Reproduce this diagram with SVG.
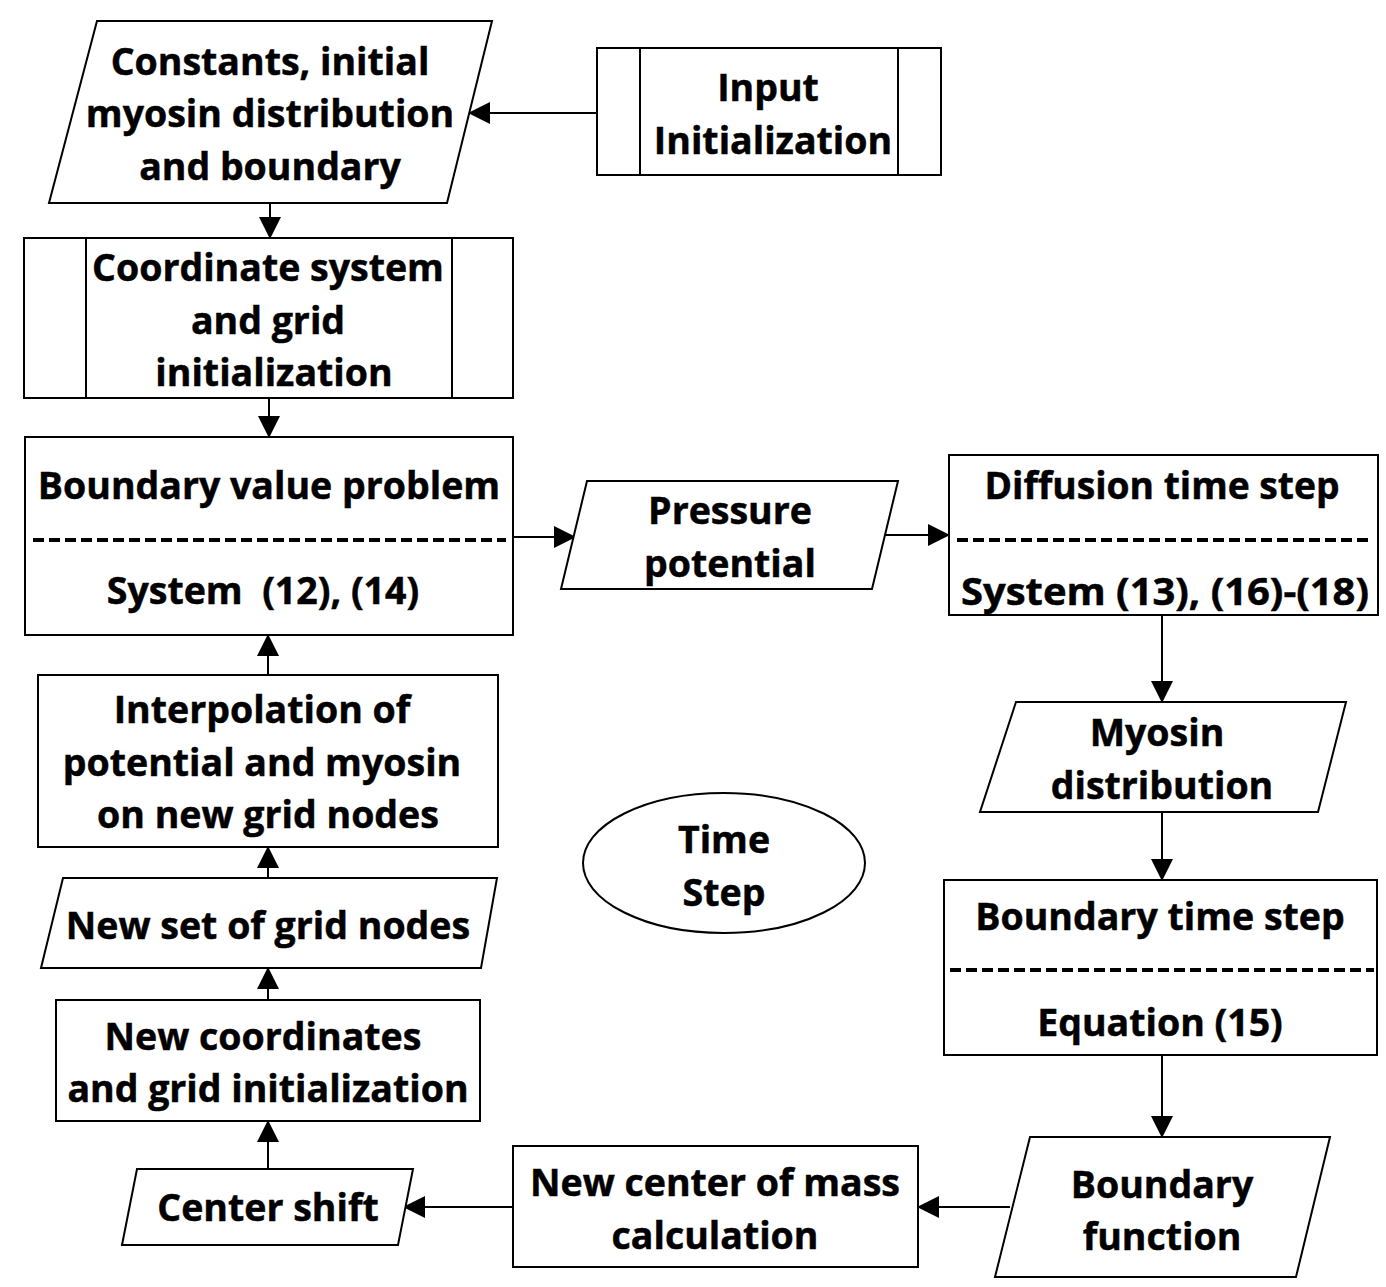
<svg xmlns="http://www.w3.org/2000/svg" width="1386" height="1287" viewBox="0 0 1386 1287">
<defs>
<marker id="arr" markerUnits="userSpaceOnUse" markerWidth="22" markerHeight="22" viewBox="0 0 22 22" refX="21" refY="11" orient="auto">
<path d="M0,0 L22,11 L0,22 Z" fill="#000"/>
</marker>
</defs>
<style>
.s{fill:#fff;stroke:#000;stroke-width:2}
.l{fill:none;stroke:#000;stroke-width:2}
.d{fill:none;stroke:#000;stroke-width:4;stroke-dasharray:11 5}
.c{fill:none;stroke:#000;stroke-width:2;marker-end:url(#arr)}
text{font-family:"Open Sans","Noto Sans","Liberation Sans",sans-serif;font-weight:bold;font-size:37.5px;text-anchor:middle;fill:#000;stroke:#000;stroke-width:0.5}
</style>
<rect width="1386" height="1287" fill="#fff"/>
<g id="connectors">
<line class="c" x1="597" y1="113" x2="469" y2="113"/>
<line class="c" x1="270" y1="203" x2="270" y2="238"/>
<line class="c" x1="269" y1="398" x2="269" y2="437"/>
<line class="c" x1="513" y1="537" x2="575" y2="537"/>
<line class="c" x1="885" y1="535" x2="949" y2="535"/>
<line class="c" x1="1162" y1="615" x2="1162" y2="702"/>
<line class="c" x1="1162" y1="812" x2="1162" y2="880"/>
<line class="c" x1="1162" y1="1055" x2="1162" y2="1137"/>
<line class="c" x1="1010" y1="1207" x2="918" y2="1207"/>
<line class="c" x1="513" y1="1207" x2="404" y2="1207"/>
<line class="c" x1="268" y1="1169" x2="268" y2="1121"/>
<line class="c" x1="268" y1="1000" x2="268" y2="968"/>
<line class="c" x1="268" y1="878" x2="268" y2="847"/>
<line class="c" x1="268" y1="675" x2="268" y2="635"/>
</g>
<g id="constants">
<polygon class="s" points="97,21 492,21 447,203 49,203"/>
<text x="270" y="75">Constants, initial</text>
<text x="270" y="127">myosin distribution</text>
<text x="270" y="180">and boundary</text>
</g>
<g id="input">
<rect class="s" x="597" y="48" width="344" height="127"/>
<line class="l" x1="640" y1="48" x2="640" y2="175"/>
<line class="l" x1="898" y1="48" x2="898" y2="175"/>
<text x="768" y="101">Input</text>
<text x="773" y="154">Initialization</text>
</g>
<g id="coord">
<rect class="s" x="24" y="238" width="489" height="160"/>
<line class="l" x1="86" y1="238" x2="86" y2="398"/>
<line class="l" x1="452" y1="238" x2="452" y2="398"/>
<text x="268" y="281">Coordinate system</text>
<text x="268" y="334">and grid</text>
<text x="274" y="386">initialization</text>
</g>
<g id="bvp">
<rect class="s" x="25" y="437" width="488" height="198"/>
<line class="d" x1="33" y1="540" x2="506" y2="540"/>
<text x="269" y="499">Boundary value problem</text>
<text x="263" y="604" xml:space="preserve">System  (12), (14)</text>
</g>
<g id="pressure">
<polygon class="s" points="587,481 898,481 872,589 561,589"/>
<text x="730" y="524">Pressure</text>
<text x="730" y="577">potential</text>
</g>
<g id="diffusion">
<rect class="s" x="949" y="455" width="429" height="160"/>
<line class="d" x1="957" y1="540" x2="1370" y2="540"/>
<text x="1162" y="499" textLength="355" lengthAdjust="spacingAndGlyphs" font-size="39">Diffusion time step</text>
<text x="1165" y="605" textLength="408" lengthAdjust="spacingAndGlyphs" font-size="39">System (13), (16)-(18)</text>
</g>
<g id="myosin">
<polygon class="s" points="1016,702 1346,702 1318,812 980,812"/>
<text x="1157" y="746">Myosin</text>
<text x="1162" y="799">distribution</text>
</g>
<g id="boundary-step">
<rect class="s" x="944" y="880" width="433" height="175"/>
<line class="d" x1="950" y1="970" x2="1374" y2="970"/>
<text x="1160" y="930">Boundary time step</text>
<text x="1160" y="1036">Equation (15)</text>
</g>
<g id="boundary-function">
<polygon class="s" points="1030,1137 1330,1137 1296,1277 995,1277"/>
<text x="1162" y="1198">Boundary</text>
<text x="1162" y="1250">function</text>
</g>
<g id="center-mass">
<rect class="s" x="513" y="1146" width="405" height="121"/>
<text x="715" y="1196">New center of mass</text>
<text x="715" y="1249">calculation</text>
</g>
<g id="center-shift">
<polygon class="s" points="137,1169 413,1169 398,1245 122,1245"/>
<text x="268" y="1221">Center shift</text>
</g>
<g id="new-coords">
<rect class="s" x="56" y="1000" width="424" height="121"/>
<text x="263" y="1050">New coordinates</text>
<text x="268" y="1102">and grid initialization</text>
</g>
<g id="new-set">
<polygon class="s" points="63,878 497,878 481,968 41,968"/>
<text x="268" y="939">New set of grid nodes</text>
</g>
<g id="interpolation">
<rect class="s" x="38" y="675" width="460" height="172"/>
<text x="262" y="723">Interpolation of</text>
<text x="262" y="776">potential and myosin</text>
<text x="268" y="828">on new grid nodes</text>
</g>
<g id="time-step">
<ellipse class="s" cx="724" cy="863" rx="141" ry="70"/>
<text x="724" y="853">Time</text>
<text x="724" y="906">Step</text>
</g>
</svg>
